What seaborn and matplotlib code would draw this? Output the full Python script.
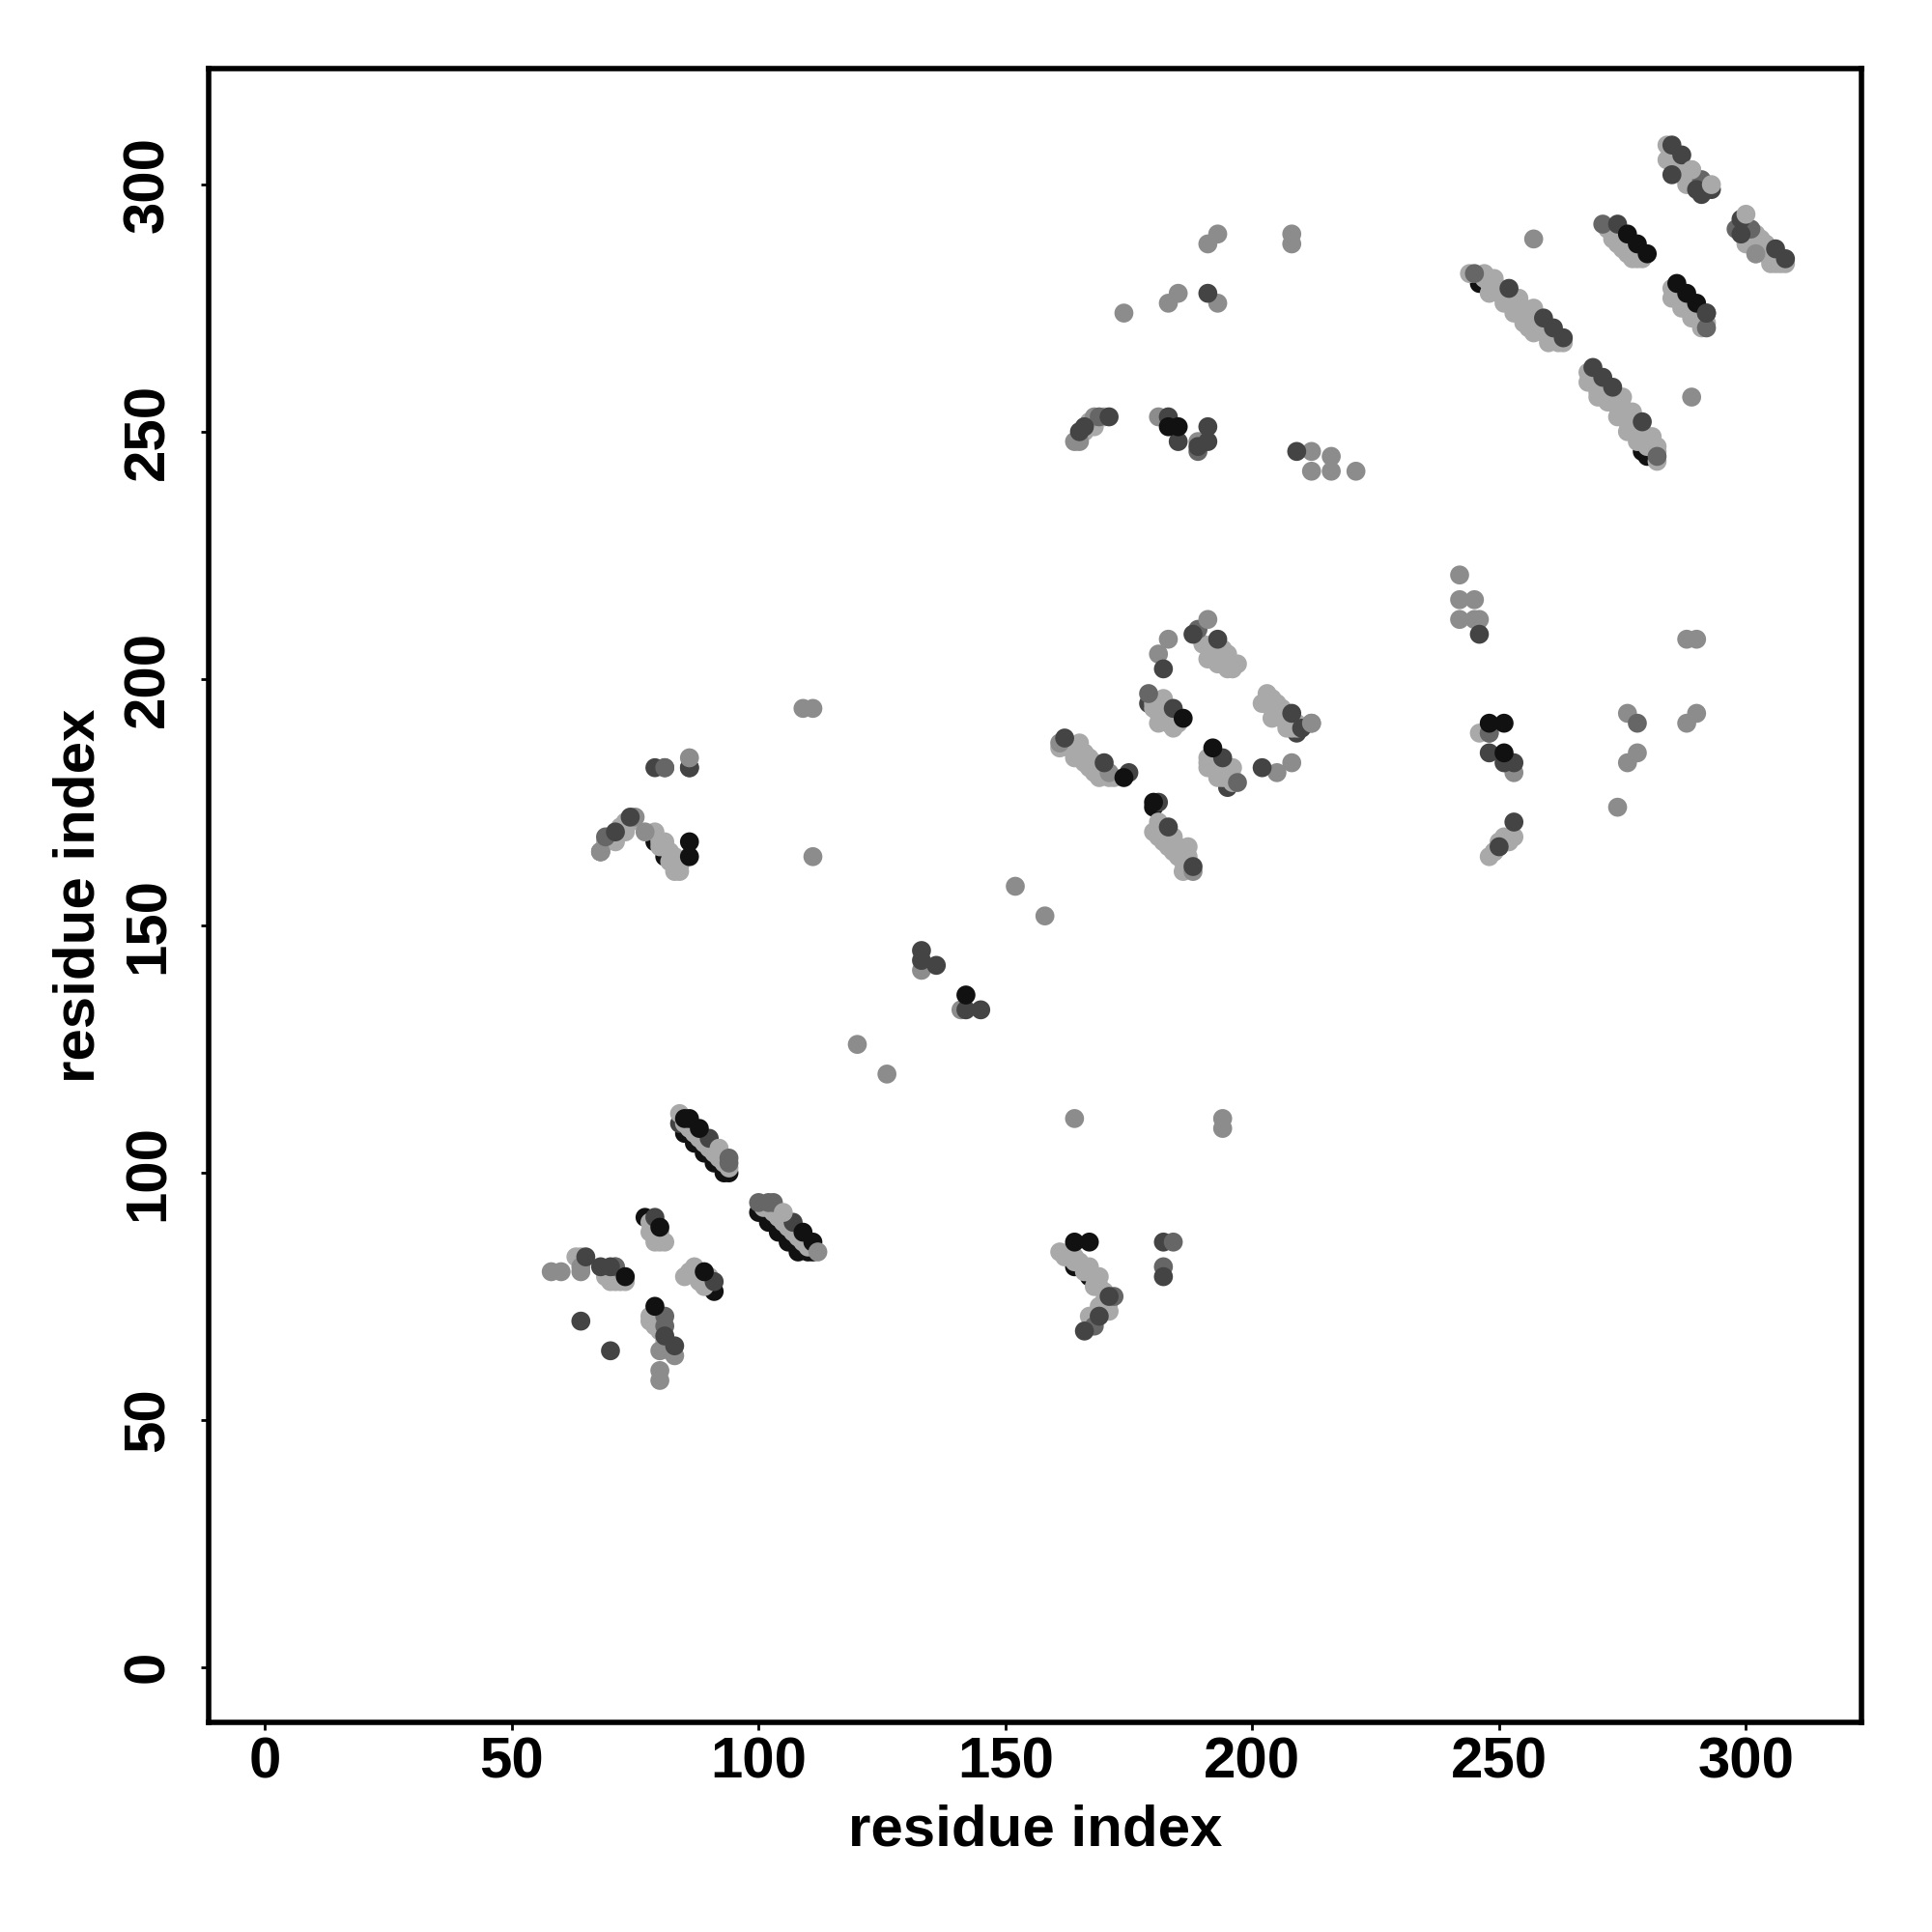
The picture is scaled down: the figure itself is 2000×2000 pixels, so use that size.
import matplotlib
matplotlib.use('Agg')
import matplotlib.pyplot as plt
import pandas as pd
import seaborn as sns

# one list per grey tone, listed bottom layer first
x_under = [85, 87, 89, 91, 93, 94, 100, 102, 104, 106, 108, 110, 111, 77, 91, 164, 167, 171, 79, 81, 180, 246, 279, 280, 84, 68, 179, 195, 209]
y_under = [108, 106, 104, 102, 100, 100, 92, 90, 88, 86, 84, 84, 84, 91, 76, 81, 79, 74, 167, 164, 174, 280, 246, 245, 110, 165, 195, 178, 189]
tone_under = ['black'] * 24 + ['dark'] * 5

x_light = [84, 85, 86, 87, 88, 89, 90, 91, 92, 93, 94, 101, 102, 103, 104, 105, 106, 107, 108, 109, 110,
           63, 64, 69, 70, 70, 71, 71, 72, 72, 73, 78, 78, 79, 79, 80, 79, 80, 81,
           85, 86, 87, 88, 89, 90, 78, 78, 79, 79, 80, 81, 82, 80, 81,
           161, 162, 163, 164, 164, 165, 166, 167, 168, 168, 169, 169, 169, 170, 170, 171, 171, 170, 167, 168,
           180, 182, 181, 183, 185, 180, 181, 182, 183, 184, 184, 185, 182, 181,
           190, 191, 192, 192, 193, 193, 194, 194, 195, 195, 196, 195, 197, 196, 195,
           203, 202, 205, 204, 207, 209, 203, 204, 204, 205, 206, 206, 207, 207, 208, 208, 209,
           191, 191, 193, 196, 196, 191, 192, 192, 193, 193, 194, 194, 195, 195, 196,
           161, 164, 165, 164, 166, 167, 169, 172, 163, 165, 166, 167, 168, 168, 169, 170, 171,
           180, 182, 181, 183, 184, 184, 187, 186, 181, 182, 183, 183, 184, 185, 185, 186, 186, 187, 187,
           68, 71, 73, 73, 69, 70, 72, 73, 74, 79, 80, 81, 83, 83, 84, 80, 82, 82, 84, 83,
           244, 247, 249, 248, 251, 254, 253, 257, 255, 256, 257, 260, 262, 247, 248, 249, 250, 250, 251, 252, 252, 253,
           254, 255, 255, 256, 256, 257, 258, 258, 259, 259, 260, 260, 261, 262, 263,
           268, 270, 275, 277, 274, 276, 278, 281, 282, 282, 268, 269, 270, 270, 271, 272, 272, 273, 274, 274, 275, 275,
           276, 276, 277, 278, 278, 279, 280, 280, 281, 282,
           285, 287, 289, 291, 285, 286, 287, 288, 289, 290, 291, 292,
           273, 273, 275, 277, 279, 272, 274, 274, 275, 276, 276, 277, 278, 278,
           284, 284, 288, 288, 289, 285, 286, 286, 287, 287, 288, 289, 290,
           300, 303, 302, 305, 308, 301, 302, 302, 303, 304, 304, 305, 306, 307, 307,
           165, 168, 170, 166, 167, 168, 246, 248, 249, 251, 253, 249, 250, 251, 252, 252, 250]
y_light = [112, 110, 109, 108, 107, 106, 105, 104, 103, 102, 101, 93, 93, 92, 91, 90, 89, 88, 87, 86, 85,
           83, 83, 79, 78, 79, 78, 79, 78, 79, 78, 90, 88, 87, 89, 88, 86, 86, 86,
           79, 80, 81, 78, 77, 79, 71, 70, 69, 71, 70, 66, 64, 68, 65,
           84, 83, 84, 82, 83, 82, 80, 81, 79, 77, 79, 77, 73, 76, 74, 74, 72, 72, 71, 71,
           195, 196, 193, 191, 191, 194, 195, 194, 193, 192, 190, 192, 192, 191,
           207, 204, 206, 207, 205, 203, 204, 206, 203, 205, 203, 202, 203, 202, 204,
           197, 195, 195, 192, 190, 191, 195, 196, 194, 193, 194, 192, 192, 191, 190, 191, 190,
           184, 182, 181, 182, 179, 183, 184, 182, 183, 180, 182, 180, 181, 180, 180,
           186, 186, 187, 184, 185, 182, 180, 180, 186, 185, 183, 184, 183, 181, 182, 181, 180,
           169, 167, 168, 168, 168, 165, 166, 161, 171, 169, 168, 166, 167, 166, 164, 165, 163, 164, 162,
           165, 167, 169, 171, 167, 168, 170, 170, 171, 169, 167, 167, 164, 161, 161, 166, 163, 165, 162, 163,
           282, 282, 281, 278, 276, 277, 274, 275, 272, 271, 270, 268, 268, 281, 280, 279, 279, 278, 277, 277, 276, 276,
           275, 275, 274, 274, 273, 273, 272, 271, 271, 270, 270, 269, 269, 269, 268,
           260, 257, 257, 254, 253, 250, 248, 249, 247, 244, 262, 260, 260, 258, 259, 258, 256, 257, 256, 255, 255, 254,
           254, 252, 252, 252, 250, 250, 249, 247, 248, 246,
           277, 275, 273, 271, 279, 277, 277, 275, 275, 273, 273, 272,
           291, 289, 287, 285, 285, 291, 290, 288, 289, 288, 286, 287, 286, 285,
           308, 305, 303, 300, 303, 306, 304, 306, 304, 302, 302, 301, 301,
           288, 289, 286, 284, 284, 289, 288, 290, 287, 286, 288, 285, 284, 284, 285,
           249, 251, 253, 250, 252, 252, 189, 164, 165, 168, 168, 165, 166, 167, 167, 168, 167]

x_mid = [58, 60, 64, 64, 71, 80, 80, 80, 83, 120, 126, 152, 158, 133, 141, 164, 194, 194, 174, 183, 185, 193, 191, 193, 208, 208,
         257, 183, 181, 205, 208, 212, 212, 212, 216, 216, 221, 181, 168, 164, 165, 189, 109, 111, 111, 68, 77, 75, 242, 242, 245,
         242, 245, 246, 288, 290, 276, 278, 276, 274, 288, 290, 248, 253, 161, 188, 171, 302]
y_mid = [80, 80, 81, 80, 81, 64, 60, 58, 63, 126, 120, 158, 152, 141, 133, 111, 111, 109, 274, 276, 278, 276, 288, 290, 290, 288,
         289, 208, 205, 181, 183, 191, 246, 242, 245, 242, 242, 253, 253, 248, 248, 248, 194, 194, 164, 165, 169, 172, 221, 216, 216,
         212, 212, 212, 208, 208, 193, 185, 183, 174, 191, 193, 189, 181, 187, 161, 181, 286]

x_slate = [100, 102, 103, 71, 81, 81, 168, 182, 179, 189, 197, 81, 69, 282, 292, 271, 298, 301, 291, 278, 189, 245, 169, 248, 172]
y_slate = [94, 94, 94, 81, 71, 69, 69, 81, 197, 210, 179, 182, 168, 245, 271, 292, 291, 291, 301, 191, 246, 282, 253, 189, 75]

x_dark = [90, 65, 68, 70, 64, 70, 79, 91, 81, 83, 133, 133, 136, 142, 145, 166, 169, 171, 182, 182, 184, 182, 208, 188, 193,
          210, 194, 202, 162, 170, 175, 183, 188, 191, 252, 259, 261, 263, 269, 271, 273, 279, 292, 285, 287, 291,
          290, 293, 274, 299, 299, 306, 308, 285, 166, 165, 171, 183, 185, 189, 191, 191, 209, 71, 74, 79, 86, 246, 248, 251, 253, 253, 250, 107, 181, 86]
y_dark = [107, 83, 81, 81, 70, 64, 91, 78, 67, 65, 145, 143, 142, 133, 133, 68, 71, 75, 86, 79, 194, 202, 193, 209, 208,
          190, 184, 182, 188, 183, 181, 170, 162, 278, 279, 273, 271, 269, 263, 261, 259, 252, 274, 308, 306, 298,
          299, 299, 292, 293, 290, 287, 285, 302, 251, 250, 253, 253, 248, 247, 248, 251, 246, 169, 172, 182, 182, 209, 185, 183, 183, 171, 166, 90, 175, 182]

x_black = [85, 86, 88, 109, 111, 79, 80, 73, 89, 164, 167, 186, 192, 174, 180, 286, 288, 290, 276, 278, 280, 86, 86, 183,
           185, 248, 251, 251, 142]
y_black = [111, 111, 109, 88, 86, 73, 89, 79, 80, 86, 86, 192, 186, 180, 175, 280, 278, 276, 290, 288, 286, 167, 164, 251,
           251, 191, 191, 185, 136]

x_top = [92, 94, 94, 105, 112, 81, 86, 184, 212, 293, 300, 289, 191, 289, 292]
y_top = [105, 103, 102, 92, 84, 182, 184, 86, 191, 300, 294, 257, 212, 303, 274]
tone_top = ['light', 'slate', 'slate', 'light', 'mid', 'slate', 'mid', 'slate', 'mid', 'light', 'light', 'mid', 'mid', 'light', 'dark']

ticks = [0, 50, 100, 150, 200, 250, 300]
colors = {'light': '#a9a9a9', 'mid': '#8c8c8c', 'slate': '#666666', 'dark': '#444444', 'black': '#111111'}

df = pd.concat([
    pd.DataFrame({'x': x_under, 'y': y_under, 'tone': tone_under}),
    pd.DataFrame({'x': x_light, 'y': y_light, 'tone': 'light'}),
    pd.DataFrame({'x': x_mid, 'y': y_mid, 'tone': 'mid'}),
    pd.DataFrame({'x': x_slate, 'y': y_slate, 'tone': 'slate'}),
    pd.DataFrame({'x': x_dark, 'y': y_dark, 'tone': 'dark'}),
    pd.DataFrame({'x': x_black, 'y': y_black, 'tone': 'black'}),
    pd.DataFrame({'x': x_top, 'y': y_top, 'tone': tone_top}),
], ignore_index=True)

sns.set_style('white')
plt.rcParams['font.family'] = ['Liberation Sans', 'DejaVu Sans']
plt.rcParams['font.weight'] = 'bold'
plt.rcParams['text.color'] = 'black'
plt.rcParams['axes.labelcolor'] = 'black'
plt.rcParams['xtick.labelcolor'] = 'black'
plt.rcParams['ytick.labelcolor'] = 'black'

fig = plt.figure(figsize=(10, 10), dpi=200)
ax = fig.add_axes([0.1078, 0.1085, 0.8557, 0.8558])
sns.scatterplot(data=df, x='x', y='y', hue='tone', palette=colors, s=50, linewidth=0, legend=False, ax=ax)

ax.set_xlim(-11.47, 323.4)
ax.set_ylim(-11.2, 323.4)
ax.set_xticks(ticks)
ax.set_yticks(ticks)
ax.tick_params(axis='both', length=3, width=1.0, color='black', bottom=True, left=True, labelsize=21.6)
ax.tick_params(axis='x', pad=2.2)
ax.tick_params(axis='y', pad=9.3)
for lab in ax.get_yticklabels():
    lab.set_rotation(90)
    lab.set_va('center')

ax.set_xlabel('residue index', fontsize=21.6, fontweight='bold', va='center')
ax.set_ylabel('residue index', fontsize=21.6, fontweight='bold', va='center')
ax.xaxis.set_label_coords(0.5, -0.0652)
ax.yaxis.set_label_coords(-0.0783, 0.5)
for side in ax.spines.values():
    side.set_linewidth(2.0)
    side.set_color('black')

plt.savefig('out.png', dpi=200)
